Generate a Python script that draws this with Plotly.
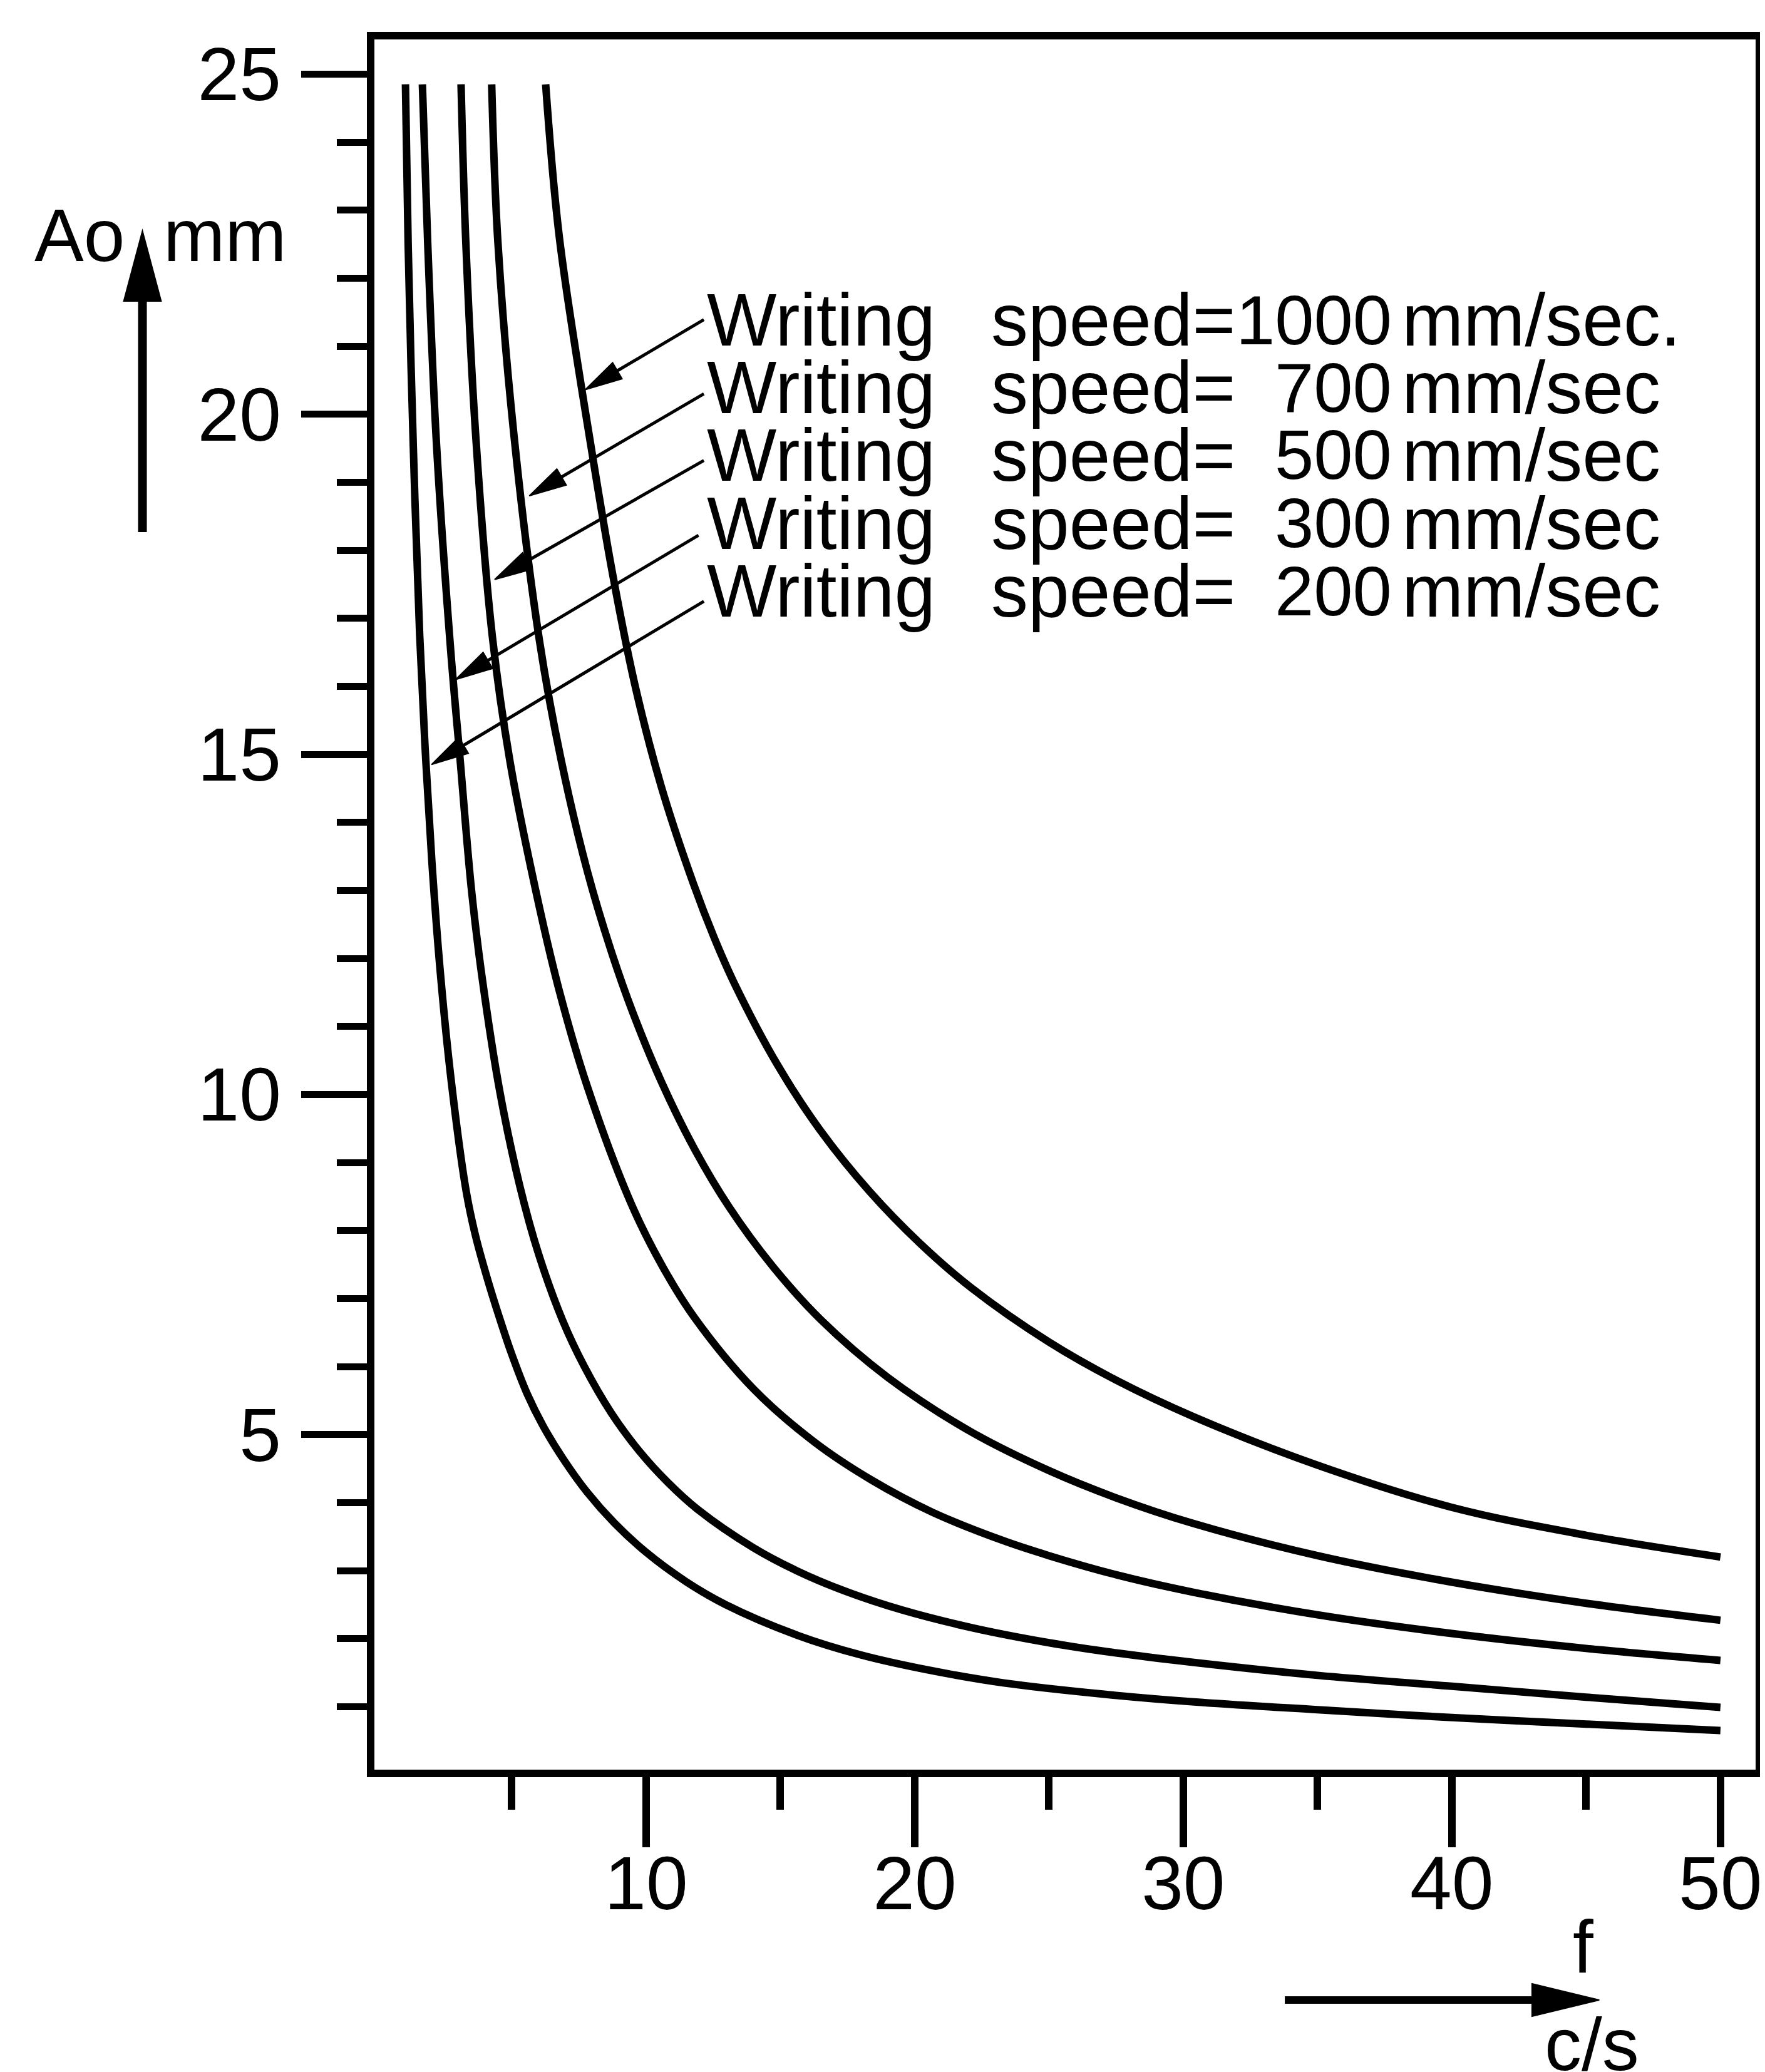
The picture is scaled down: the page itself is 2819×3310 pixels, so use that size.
import plotly.graph_objects as go

# ---------------- data ----------------
speed_labels = ["1000", "700", "500", "300", "200"]
unit_labels = ["mm/sec.", "mm/sec", "mm/sec", "mm/sec", "mm/sec"]

freq_1000 = [6.26, 6.77, 7.96, 8.8, 9.63, 10.57, 11.76, 12.54, 13.29, 14.9, 16.49, 18.33, 20.2, 22.1, 25.0, 27.5, 30.4, 35.0, 40.0, 45.0, 50.0]
amp_1000 = [24.85, 22.6, 19.5, 17.55, 15.94, 14.52, 13.1, 12.3, 11.63, 10.43, 9.47, 8.57, 7.81, 7.16, 6.36, 5.8, 5.26, 4.55, 3.93, 3.52, 3.2]

freq_700 = [4.25, 4.48, 5.08, 6.03, 6.84, 7.82, 8.69, 9.5, 10.6, 11.8, 13.1, 14.7, 16.5, 19.0, 22.1, 25.0, 27.5, 30.4, 35.0, 40.0, 45.0, 50.0]
amp_700 = [24.85, 22.54, 19.69, 16.67, 14.91, 13.27, 12.12, 11.21, 10.16, 9.2, 8.34, 7.48, 6.69, 5.84, 5.04, 4.47, 4.07, 3.69, 3.22, 2.83, 2.52, 2.27]

freq_500 = [3.11, 3.29, 3.67, 4.27, 4.93, 5.89, 6.77, 7.8, 9.46, 10.6, 11.8, 14.0, 16.3, 18.4, 20.65, 23.3, 25.0, 27.5, 30.4, 35.0, 40.0, 45.0, 50.0]
amp_500 = [24.85, 22.5, 19.6, 16.75, 14.9, 13.0, 11.52, 10.13, 8.38, 7.48, 6.72, 5.67, 4.88, 4.33, 3.86, 3.44, 3.22, 2.94, 2.68, 2.35, 2.075, 1.856, 1.68]

freq_300 = [1.67, 1.87, 2.19, 2.71, 3.08, 3.5, 3.9, 4.55, 5.3, 6.0, 6.9, 7.7, 8.7, 9.74, 10.8, 11.92, 13.98, 15.6, 17.4, 19.54, 22.14, 25.0, 27.5, 30.4, 35.0, 40.0, 45.0, 50.0]
amp_300 = [24.85, 22.5, 19.6, 16.6, 14.9, 13.0, 11.7, 10.05, 8.65, 7.65, 6.67, 6.0, 5.32, 4.76, 4.3, 3.9, 3.34, 3.0, 2.7, 2.42, 2.16, 1.94, 1.79, 1.65, 1.46, 1.3, 1.14, 0.99]

freq_200 = [1.04, 1.14, 1.33, 1.57, 1.8, 2.05, 2.35, 2.75, 3.3, 3.65, 4.09, 4.53, 4.98, 5.57, 6.16, 6.9, 7.79, 8.82, 10.0, 11.48, 12.96, 15.63, 18.0, 20.49, 23.3, 27.0, 30.4, 35.0, 40.0, 45.0, 50.0]
amp_200 = [24.85, 22.5, 19.55, 16.75, 14.89, 13.27, 11.74, 10.18, 8.58, 7.92, 7.29, 6.73, 6.2, 5.6, 5.13, 4.65, 4.16, 3.7, 3.27, 2.84, 2.5, 2.05, 1.76, 1.54, 1.35, 1.185, 1.07, 0.955, 0.84, 0.744, 0.65]

x_tick_vals = [10, 20, 30, 40, 50]
x_tick_text = ["10", "20", "30", "40", "50"]
x_minor_vals = [5, 15, 25, 35, 45]
y_tick_vals = [5, 10, 15, 20, 25]
y_tick_text = ["5", "10", "15", "20", "25"]
y_minor_vals = [1, 2, 3, 4, 6, 7, 8, 9, 11, 12, 13, 14, 16, 17, 18, 19, 21, 22, 23, 24]

# ---------------- layout constants ----------------
W, H = 2819, 3310
ML, MR, MT, MB = 590, 11, 55, 491
PW, PH = W - ML - MR, H - MT - MB
XR = [-0.116, 51.31]
YR = [0.074, 25.51]
FONT_TXT = "Liberation Sans, Arial, sans-serif"
FS = 118
FS_NUM = 112

# label rows (data coords)
label_y = [21.385, 20.39, 19.40, 18.40, 17.40]
word1_x = 12.22      # "Writing"
word2_x = 22.81      # "speed="
number_x_right = 37.82
unit_x_left = 38.09
arrow_tail = [(12.15, 21.39), (12.15, 20.30), (12.15, 19.32), (11.95, 18.22), (12.15, 17.25)]
arrow_tip = [(7.73, 20.36), (5.65, 18.80), (4.36, 17.57), (2.91, 16.10), (2.01, 14.85)]


def d2px(x, y):
    return (ML + (x - XR[0]) / (XR[1] - XR[0]) * PW,
            MT + (YR[1] - y) / (YR[1] - YR[0]) * PH)


def px2paper(px, py):
    return (px - ML) / PW, (H - MB - py) / PH


def arrow_shapes(tail_px, tip_px, lw, head_len, head_w):
    tx, ty = tail_px
    hx, hy = tip_px
    dx, dy = hx - tx, hy - ty
    L = (dx * dx + dy * dy) ** 0.5
    ux, uy = dx / L, dy / L
    nx, ny = -uy, ux
    bx, by = hx - ux * head_len, hy - uy * head_len
    p_tail = px2paper(tx, ty)
    p_base = px2paper(bx + ux * 2, by + uy * 2)
    c1 = px2paper(bx + nx * head_w / 2, by + ny * head_w / 2)
    c2 = px2paper(bx - nx * head_w / 2, by - ny * head_w / 2)
    p_tip = px2paper(hx, hy)
    line = dict(type="line", xref="paper", yref="paper",
                x0=p_tail[0], y0=p_tail[1], x1=p_base[0], y1=p_base[1],
                line=dict(color="black", width=lw))
    path = "M {} {} L {} {} L {} {} Z".format(p_tip[0], p_tip[1], c1[0], c1[1], c2[0], c2[1])
    head = dict(type="path", xref="paper", yref="paper", path=path,
                fillcolor="black", line=dict(color="black", width=2))
    return [line, head]


fig = go.Figure()
for fx, ay in [(freq_1000, amp_1000), (freq_700, amp_700), (freq_500, amp_500),
               (freq_300, amp_300), (freq_200, amp_200)]:
    fig.add_trace(go.Scatter(x=fx, y=ay, mode="lines",
                             line=dict(color="black", width=12, shape="spline", smoothing=1.0),
                             showlegend=False, hoverinfo="skip"))

shapes = []
for tail, tip in zip(arrow_tail, arrow_tip):
    shapes += arrow_shapes(d2px(*tail), d2px(*tip), 5, 60, 30)
# y-axis direction arrow
shapes += arrow_shapes((217.5, 842), (217.5, 361), 14, 112, 60)
# x-axis direction arrow
shapes += arrow_shapes((2052, 3187), (2557, 3187), 12, 108, 52)

annotations = []
tfont = dict(family=FONT_TXT, size=FS, color="black")
nfont = dict(family=FONT_TXT, size=FS_NUM, color="black")
for i in range(5):
    annotations.append(dict(x=word1_x, y=label_y[i], xref="x", yref="y", text="Writing",
                            showarrow=False, xanchor="left", yanchor="middle", font=tfont))
    annotations.append(dict(x=word2_x, y=label_y[i], xref="x", yref="y", text="speed=",
                            showarrow=False, xanchor="left", yanchor="middle", font=tfont))
    annotations.append(dict(x=number_x_right, y=label_y[i], xref="x", yref="y", text=speed_labels[i],
                            showarrow=False, xanchor="right", yanchor="middle", font=nfont))
    annotations.append(dict(x=unit_x_left, y=label_y[i], xref="x", yref="y", text=unit_labels[i],
                            showarrow=False, xanchor="left", yanchor="middle", font=tfont))

ax_ao = px2paper(42, 368)
ax_mm = px2paper(249, 368)
f_pos = px2paper(2531, 3102)
cs_pos = px2paper(2545, 3258)
annotations += [
    dict(x=ax_ao[0], y=ax_ao[1], xref="paper", yref="paper", text="Ao", showarrow=False,
         xanchor="left", yanchor="middle", font=tfont),
    dict(x=ax_mm[0], y=ax_mm[1], xref="paper", yref="paper", text="mm", showarrow=False,
         xanchor="left", yanchor="middle", font=tfont),
    dict(x=f_pos[0], y=f_pos[1], xref="paper", yref="paper", text="f", showarrow=False,
         xanchor="center", yanchor="middle", font=tfont),
    dict(x=cs_pos[0], y=cs_pos[1], xref="paper", yref="paper", text="c/s", showarrow=False,
         xanchor="center", yanchor="middle", font=tfont),
]

fig.update_layout(
    width=W, height=H,
    margin=dict(l=ML, r=MR, t=MT, b=MB, pad=0),
    paper_bgcolor="white", plot_bgcolor="white",
    showlegend=False,
    shapes=shapes,
    annotations=annotations,
    xaxis=dict(range=XR, showgrid=False, zeroline=False, showline=True, mirror=True,
               linecolor="black", linewidth=12, ticks="outside", tickmode="array",
               tickvals=x_tick_vals, ticktext=x_tick_text, ticklen=112, tickwidth=12,
               tickcolor="black", tickfont=dict(family=FONT_TXT, size=120, color="black"),
               ticklabelstandoff=-45,
               minor=dict(tickmode="array", tickvals=x_minor_vals, ticks="outside", ticklen=52,
                          tickwidth=12, tickcolor="black", showgrid=False)),
    yaxis=dict(range=YR, showgrid=False, zeroline=False, showline=True, mirror=True,
               linecolor="black", linewidth=12, ticks="outside", tickmode="array",
               tickvals=y_tick_vals, ticktext=y_tick_text, ticklen=105, tickwidth=11,
               tickcolor="black", tickfont=dict(family=FONT_TXT, size=120, color="black"),
               ticklabelstandoff=8,
               minor=dict(tickmode="array", tickvals=y_minor_vals, ticks="outside", ticklen=48,
                          tickwidth=11, tickcolor="black", showgrid=False)),
)

fig.write_html("out.html")
